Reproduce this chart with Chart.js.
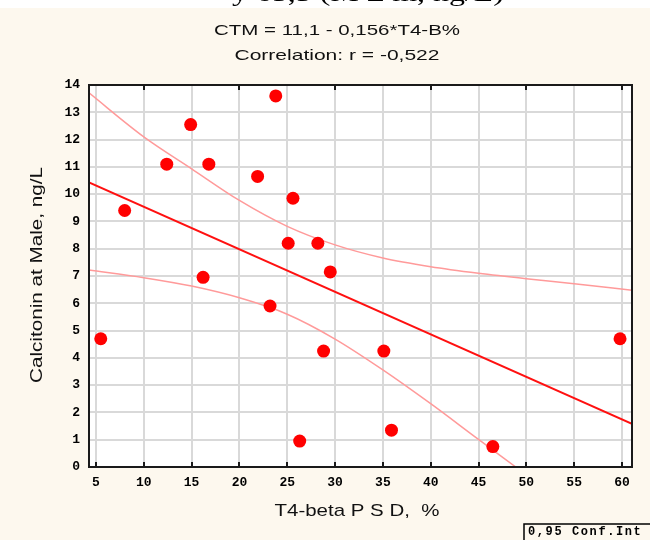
<!DOCTYPE html>
<html>
<head>
<meta charset="utf-8">
<script src="https://cdn.jsdelivr.net/npm/chart.js@4"></script>
<style>
html,body{margin:0;padding:0;background:#fdf8ee;}
canvas{display:block;}
</style>
</head>
<body>
<canvas id="c" width="650" height="540"></canvas>
<script>
// ---- data ----
const pointX = [5.5, 8.0, 12.4, 14.9, 16.2, 16.8, 21.9, 23.2, 23.8, 25.1, 25.6, 26.3, 28.2, 28.8, 29.5, 35.1, 35.9, 46.5, 59.8];
const pointY = [4.7, 9.4, 11.1, 12.55, 6.95, 11.1, 10.65, 5.9, 13.6, 8.2, 9.85, 0.95, 8.2, 4.25, 7.15, 4.25, 1.35, 0.75, 4.7];
const fitX = [4.27, 61.05];
const fitY = [10.43, 1.58];
const upperX = [4.27, 10, 15, 20, 25, 30, 35, 40, 45, 50, 55, 61.05];
const upperY = [13.71, 12.1, 10.93, 9.77, 8.82, 8.14, 7.66, 7.34, 7.1, 6.9, 6.72, 6.48];
const lowerX = [4.27, 10, 15, 20, 25, 30, 35, 40, 45, 48.9];
const lowerY = [7.22, 6.94, 6.63, 6.2, 5.6, 4.69, 3.56, 2.32, 1.01, 0];
const xTicks = [5, 10, 15, 20, 25, 30, 35, 40, 45, 50, 55, 60];
const yTicks = [0, 1, 2, 3, 4, 5, 6, 7, 8, 9, 10, 11, 12, 13, 14];
const xRange = [4.27, 61.05];
const yRange = [0, 14];
const titleLines = ["CTM = 11,1 - 0,156*T4-B%", "Correlation: r = -0,522"];
const xTitle = "T4-beta P S D,  %";
const yTitle = "Calcitonin at Male, ng/L";
const topCutText = "y 65,5 (M ± m, ng/L)";
const legendText = "0,95 Conf.Int";

const zip = (xs, ys) => xs.map((x, i) => ({x: x, y: ys[i]}));

// draw text centred at (x,y), stretched horizontally to a target width
function fitText(ctx, text, x, y, target) {
  const w = ctx.measureText(text).width;
  const sx = target / w;
  ctx.save();
  ctx.translate(x, y);
  ctx.scale(sx, 1);
  ctx.textAlign = "center";
  ctx.fillText(text, 0, 0);
  ctx.restore();
}

const deco = {
  id: "deco",
  beforeDraw(chart) {
    const ctx = chart.ctx, a = chart.chartArea;
    ctx.save();
    ctx.fillStyle = "#fdf8ee";
    ctx.fillRect(0, 0, chart.width, chart.height);
    ctx.fillStyle = "#ffffff";
    ctx.fillRect(0, 0, chart.width, 8);
    ctx.fillStyle = "#000";
    ctx.font = "24px 'Liberation Serif'";
    ctx.textBaseline = "alphabetic";
    ctx.save();
    ctx.beginPath(); ctx.rect(0, 0, chart.width, 8); ctx.clip();
    fitText(ctx, topCutText, 368, 1, 272);
    ctx.restore();
    ctx.fillStyle = "#ffffff";
    ctx.fillRect(a.left, a.top, a.right - a.left, a.bottom - a.top);
    ctx.restore();
  },
  afterDraw(chart) {
    const ctx = chart.ctx, a = chart.chartArea;
    const xs = chart.scales.x;
    ctx.save();
    // frame
    ctx.strokeStyle = "#1a1a1a";
    ctx.lineWidth = 2;
    ctx.strokeRect(a.left, a.top, a.right - a.left, a.bottom - a.top);
    // inward tick marks
    xTicks.forEach(v => {
      const px = Math.round(xs.getPixelForValue(v));
      ctx.beginPath(); ctx.moveTo(px, a.bottom); ctx.lineTo(px, a.bottom - 5); ctx.stroke();
      if (v % 10 === 0) {
        ctx.beginPath(); ctx.moveTo(px, a.top); ctx.lineTo(px, a.top + 5); ctx.stroke();
      }
    });
    // titles
    ctx.fillStyle = "#111";
    ctx.textBaseline = "middle";
    ctx.font = "15px 'Liberation Sans'";
    fitText(ctx, titleLines[0], 337, 31, 246);
    fitText(ctx, titleLines[1], 337, 56, 205);
    ctx.font = "17px 'Liberation Sans'";
    fitText(ctx, xTitle, 357, 511, 165);
    ctx.save();
    ctx.translate(37, 275);
    ctx.rotate(-Math.PI / 2);
    fitText(ctx, yTitle, 0, 0, 216);
    ctx.restore();
    // legend box
    ctx.strokeStyle = "#000";
    ctx.lineWidth = 1.5;
    ctx.beginPath();
    ctx.moveTo(524, 540); ctx.lineTo(524, 524); ctx.lineTo(650, 524);
    ctx.stroke();
    ctx.font = "bold 12px 'Liberation Mono'";
    ctx.textAlign = "left";
    ctx.textBaseline = "middle";
    ctx.letterSpacing = "1.6px";
    ctx.fillStyle = "#000";
    ctx.fillText(legendText, 528, 532);
    ctx.letterSpacing = "0px";
    ctx.restore();
  }
};

new Chart(document.getElementById("c"), {
  type: "scatter",
  data: {
    datasets: [
      {
        label: "data",
        data: zip(pointX, pointY),
        pointRadius: 6.5,
        pointHoverRadius: 6.5,
        backgroundColor: "#ff0000",
        borderWidth: 0,
        showLine: false
      },
      {
        label: "fit",
        data: zip(fitX, fitY),
        showLine: true,
        borderColor: "#ff1010",
        borderWidth: 2,
        pointRadius: 0,
        fill: false
      },
      {
        label: "upper",
        data: zip(upperX, upperY),
        showLine: true,
        borderColor: "#ff9a9a",
        borderWidth: 1.5,
        pointRadius: 0,
        cubicInterpolationMode: "monotone",
        fill: false
      },
      {
        label: "lower",
        data: zip(lowerX, lowerY),
        showLine: true,
        borderColor: "#ff9a9a",
        borderWidth: 1.5,
        pointRadius: 0,
        cubicInterpolationMode: "monotone",
        fill: false
      }
    ]
  },
  options: {
    responsive: false,
    animation: false,
    devicePixelRatio: 1,
    layout: {padding: {left: 0, right: 18, top: 85, bottom: 0}},
    plugins: {legend: {display: false}, tooltip: {enabled: false}, title: {display: false}},
    scales: {
      x: {
        type: "linear",
        min: xRange[0],
        max: xRange[1],
        afterBuildTicks: s => { s.ticks = xTicks.map(v => ({value: v})); },
        afterFit: s => { s.height = 73; },
        grid: {color: "#d9d9d9", lineWidth: 2, drawTicks: false},
        border: {display: false},
        ticks: {
          padding: 8,
          color: "#000",
          font: {family: "'Liberation Mono'", size: 13, weight: "bold"},
          maxRotation: 0,
          autoSkip: false
        }
      },
      y: {
        type: "linear",
        min: yRange[0],
        max: yRange[1],
        afterBuildTicks: s => { s.ticks = yTicks.map(v => ({value: v})); },
        afterFit: s => { s.width = 89; },
        grid: {color: "#d9d9d9", lineWidth: 2, drawTicks: false},
        border: {display: false},
        ticks: {
          padding: 9,
          color: "#000",
          font: {family: "'Liberation Mono'", size: 13, weight: "bold"},
          autoSkip: false
        }
      }
    }
  },
  plugins: [deco]
});
</script>
</body>
</html>
